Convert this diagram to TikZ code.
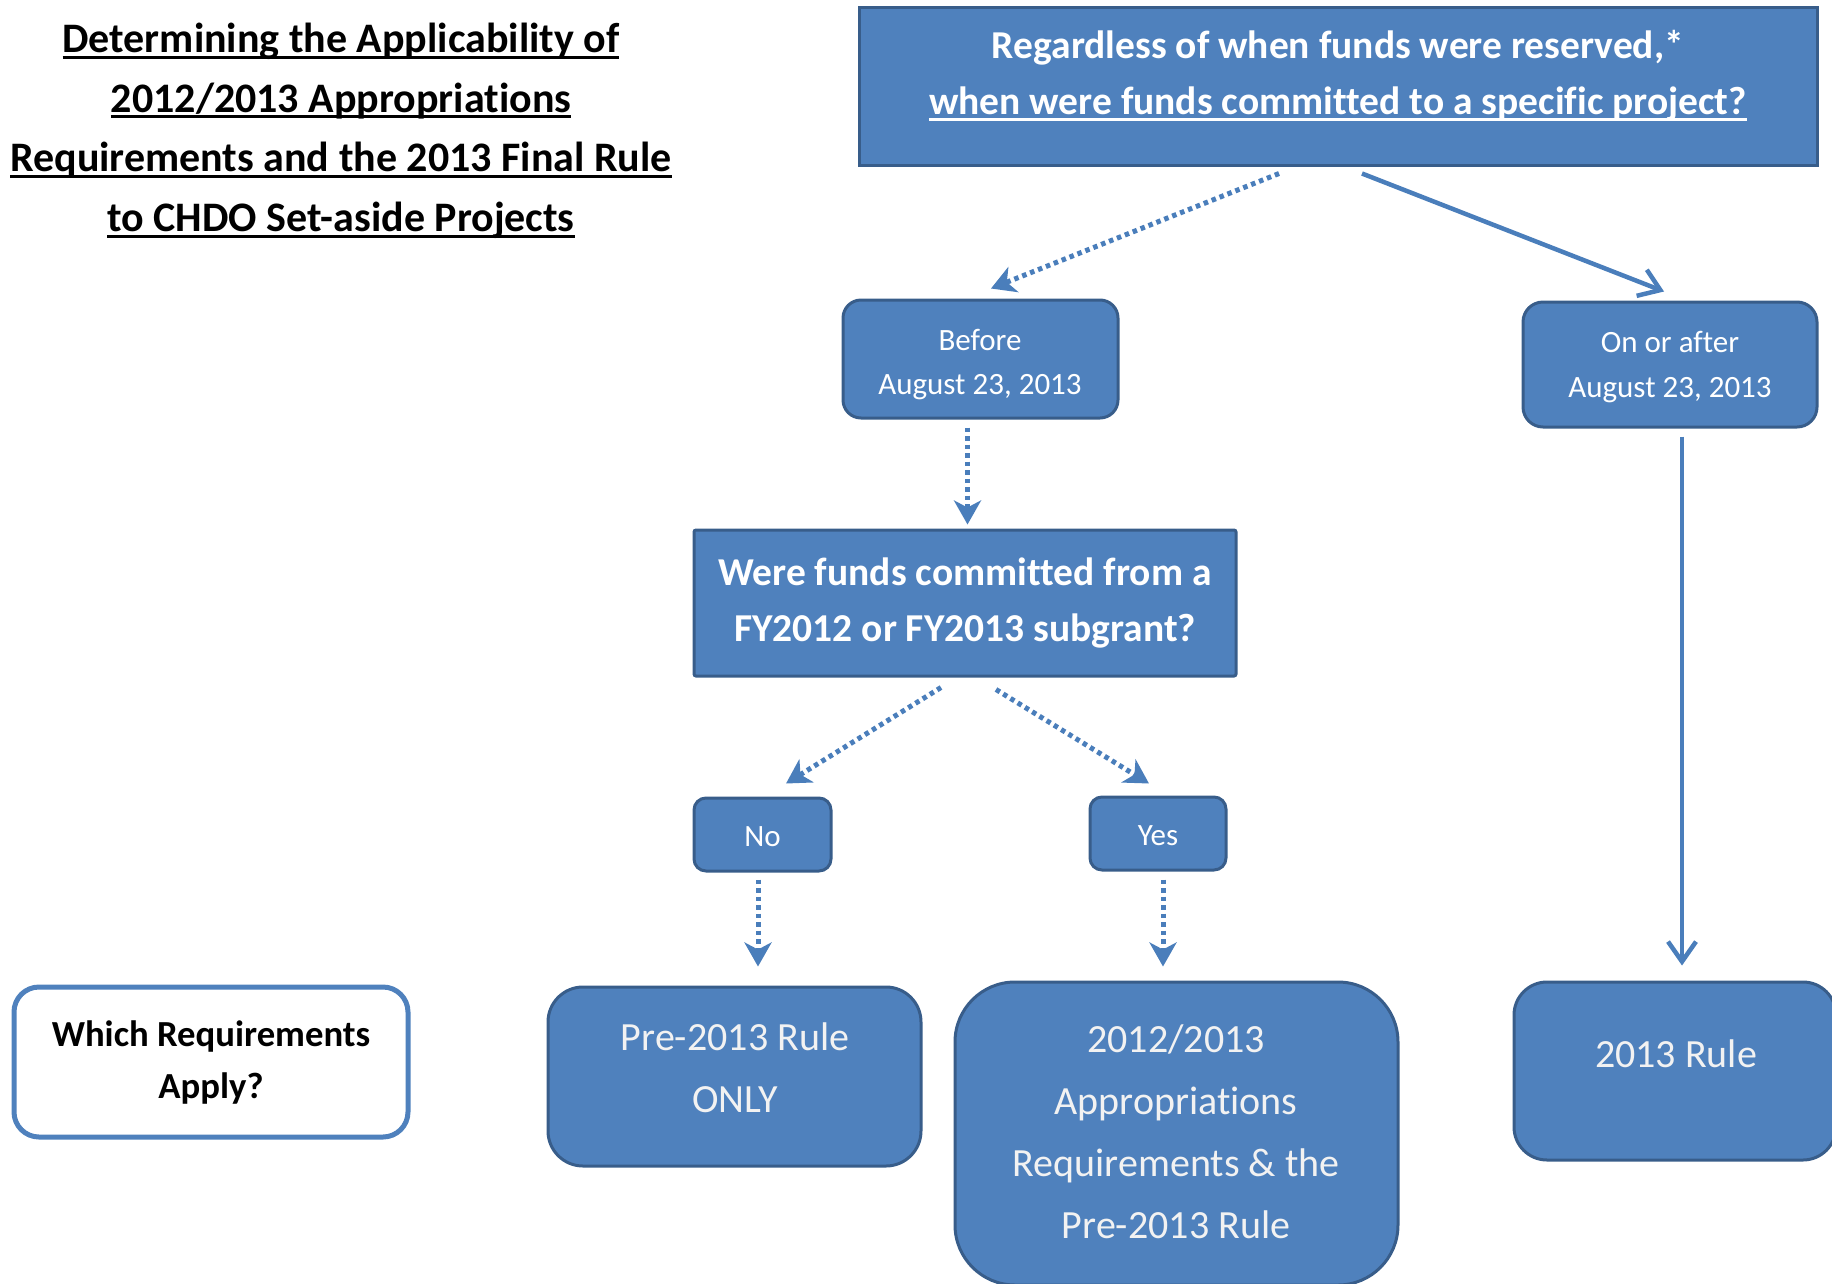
\documentclass[tikz,border=0pt]{standalone}
\usepackage{fontspec}
\setmainfont{Carlito}[Ligatures=CommonOff,RawFeature={-clig;-calt;-dlig}]
\usetikzlibrary{arrows.meta}
\definecolor{ofblue}{HTML}{4F81BD}
\definecolor{ofdark}{HTML}{385D8A}
\definecolor{arrblue}{HTML}{4A7EBB}
\definecolor{softwhite}{HTML}{F2F2F2}
\newcommand\myul[1]{\setbox0\hbox{#1}\rlap{\rule[-6pt]{\wd0}{3pt}}\box0}
\begin{document}
\begin{tikzpicture}[x=1pt,y=-1pt,
  box/.style={draw=ofdark, line width=3pt, fill=ofblue, inner sep=0pt},
  txt/.style={text=white, align=center, inner sep=0pt},
  restxt/.style={text=softwhite, align=center, inner sep=0pt, font=\fontsize{40}{62}\selectfont},
  dotarrow/.style={draw=arrblue, line width=5pt, dash pattern=on 4.5pt off 4pt,
    -{Stealth[length=24pt,width=27pt,inset=7pt]}},
  solidarrow/.style={draw=arrblue, line width=4.5pt,
    -{Straight Barb[length=20pt,width=28pt,line width=4.5pt]}}]
\useasboundingbox (0,0) rectangle (1832,1283);

% title
\node[align=center, inner sep=0pt, font=\fontsize{42}{59.6}\selectfont\bfseries] (title) at (341,131)
  {\myul{Determining the Applicability of}\\ \myul{2012/2013 Appropriations}\\
   \myul{Requirements and the 2013 Final Rule}\\ \myul{to CHDO Set-aside Projects}};

% top box
\node[box, minimum width=958pt, minimum height=158pt] (top) at (1338,86) {};
\node[txt, font=\fontsize{39.5}{56}\selectfont\bfseries] (toptxt) at (1338,76)
  {Regardless of when funds were reserved,*\\ \myul{when were funds committed to a specific project?}};

% second level
\node[box, rounded corners=18pt, minimum width=275pt, minimum height=118pt] (before) at (980.5,359) {};
\node[txt, font=\fontsize{31}{44}\selectfont] (beforetxt) at (980,365) {Before\\August 23, 2013};
\node[box, rounded corners=20pt, minimum width=294pt, minimum height=125pt] (onafter) at (1670,364.5) {};
\node[txt, font=\fontsize{31}{45}\selectfont] (onaftertxt) at (1670,367.5) {On or after\\August 23, 2013};

% question
\node[box, rounded corners=2pt, minimum width=542pt, minimum height=146pt, txt,
  font=\fontsize{39.5}{56}\selectfont\bfseries] (question) at (965,603) {Were funds committed from a\\FY2012 or FY2013 subgrant?};

% no / yes
\node[box, rounded corners=12pt, minimum width=137pt, minimum height=73pt] (no) at (762.5,834.5) {};
\node[txt, font=\fontsize{31}{40}\selectfont] (notxt) at (762.5,836.5) {No};
\node[box, rounded corners=12pt, minimum width=136pt, minimum height=73pt] (yes) at (1158,833.5) {};
\node[txt, font=\fontsize{31}{40}\selectfont] (yestxt) at (1158,835.5) {Yes};

% results
\node[draw=ofblue, line width=5pt, fill=white, rounded corners=25pt, minimum width=394pt,
  minimum height=150pt, align=center, inner sep=0pt,
  font=\fontsize{36.7}{52}\selectfont\bfseries] (which) at (211,1062) {Which Requirements\\Apply?};
\node[box, rounded corners=35pt, minimum width=373pt, minimum height=179pt] (pre) at (734.5,1076.5) {};
\node[restxt] (pretxt) at (735,1067.5) {Pre-2013 Rule\\ONLY};
\node[box, rounded corners=60pt, minimum width=443pt, minimum height=303pt] (app) at (1176.5,1133.5) {};
\node[restxt] (apptxt) at (1176,1131.5) {2012/2013\\Appropriations\\Requirements \& the\\Pre-2013 Rule};
\node[box, rounded corners=33pt, minimum width=322pt, minimum height=178pt] (rule) at (1675,1071) {};
\node[restxt] (ruletxt) at (1676,1054) {2013 Rule};

% connectors
\draw[dotarrow] ([shift={(-59,7)}]top.south) -- ([shift={(10.5,-10)}]before.north);
\draw[solidarrow] ([shift={(24,7)}]top.south) -- ([shift={(-6,-9)}]onafter.north);
\draw[dotarrow] ([shift={(-13,8)}]before.south) -- ([shift={(2.5,-4)}]question.north);
\draw[dotarrow] ([shift={(-24,10)}]question.south) -- ([shift={(23.5,-13)}]no.north);
\draw[dotarrow] ([shift={(31,12)}]question.south) -- ([shift={(-9,-12)}]yes.north);
\draw[dotarrow] ([shift={(-4.5,7)}]no.south) -- ([shift={(23.5,-19)}]pre.north);
\draw[dotarrow] ([shift={(5,8)}]yes.south) -- ([shift={(-13.5,-14)}]app.north);
\draw[solidarrow] ([shift={(12,8)}]onafter.south) -- ([shift={(7,-15)}]rule.north);
\end{tikzpicture}
\end{document}
